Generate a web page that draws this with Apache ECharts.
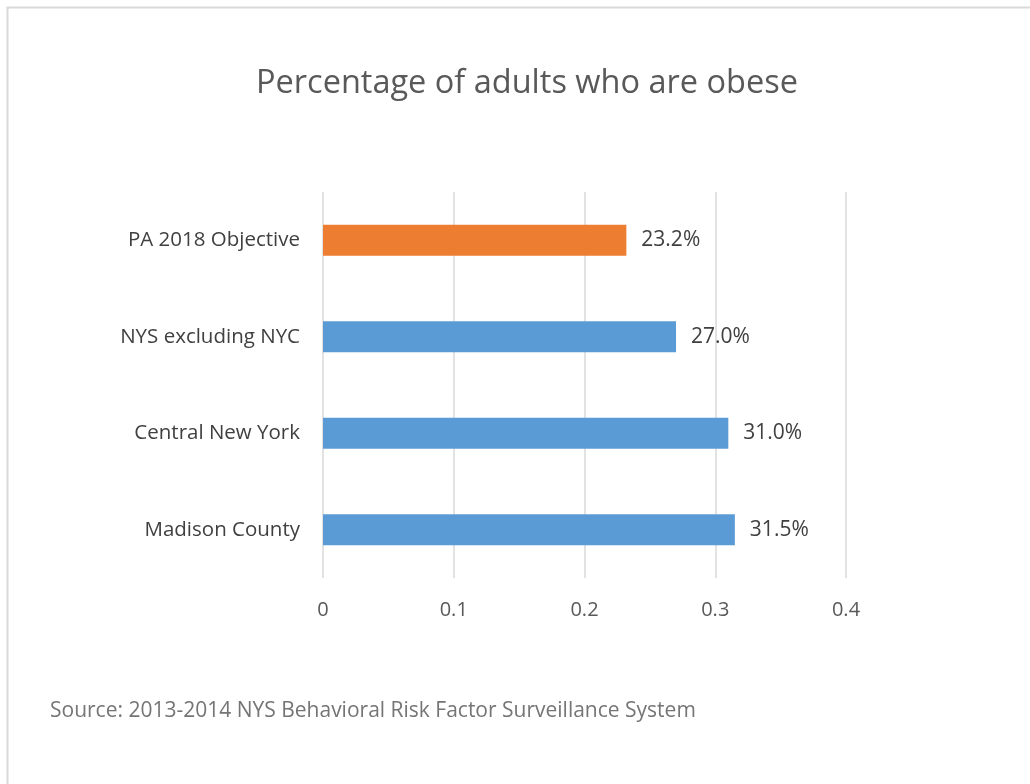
<!DOCTYPE html>
<html>
<head>
<meta charset="utf-8">
<script src="https://cdn.jsdelivr.net/npm/echarts@6/dist/echarts.min.js"></script>
<style>
html,body{margin:0;padding:0;background:#fff;}
#c{width:1030px;height:784px;}
</style>
</head>
<body>
<div id="c"></div>
<script>
const categories = ["PA 2018 Objective", "NYS excluding NYC", "Central New York", "Madison County"];
const values = [0.232, 0.270, 0.310, 0.315];
const barColors = ["#ED7D31", "#5B9BD5", "#5B9BD5", "#5B9BD5"];
const titleText = "Percentage of adults who are obese";
const sourceText = "Source: 2013-2014 NYS Behavioral Risk Factor Surveillance System";

const font = "'Open Sans', 'Noto Sans', sans-serif";
const chart = echarts.init(document.getElementById('c'));
chart.setOption({
  backgroundColor: '#fff',
  animation: false,
  textStyle: { fontFamily: font },
  title: {
    text: titleText,
    left: 251,
    top: 62,
    textStyle: { fontFamily: font, fontSize: 32.5, fontWeight: 'normal', color: '#595959' }
  },
  grid: { left: 323, right: 184, top: 192, bottom: 206, containLabel: false },
  xAxis: {
    type: 'value',
    min: 0, max: 0.4, interval: 0.1,
    axisLine: { show: false },
    axisTick: { show: false },
    axisLabel: { fontFamily: font, fontSize: 20, color: '#595959', margin: 22 },
    splitLine: { show: true, lineStyle: { color: '#d9d9d9', width: 1.5 } }
  },
  yAxis: {
    type: 'category',
    data: categories,
    inverse: true,
    axisLine: { show: false },
    axisTick: { show: false },
    axisLabel: { fontFamily: font, fontSize: 20.5, color: '#404040', margin: 23 }
  },
  series: [{
    type: 'bar',
    data: values.map((v, i) => ({ value: v, itemStyle: { color: barColors[i] } })),
    barWidth: 31,
    label: {
      show: true,
      position: 'right',
      distance: 15,
      fontFamily: font,
      fontSize: 21,
      color: '#404040',
      formatter: p => (p.value * 100).toFixed(1) + '%'
    }
  }],
  graphic: [
    {
      type: 'rect',
      shape: { x: 7.5, y: 7.5, width: 1200, height: 1000 },
      style: { fill: 'none', stroke: '#d9d9d9', lineWidth: 2 },
      silent: true
    },
    {
      type: 'text',
      left: 50,
      top: 701,
      style: { text: sourceText, fontFamily: font, fontSize: 21, fill: '#757575' }
    }
  ]
});
</script>
</body>
</html>
